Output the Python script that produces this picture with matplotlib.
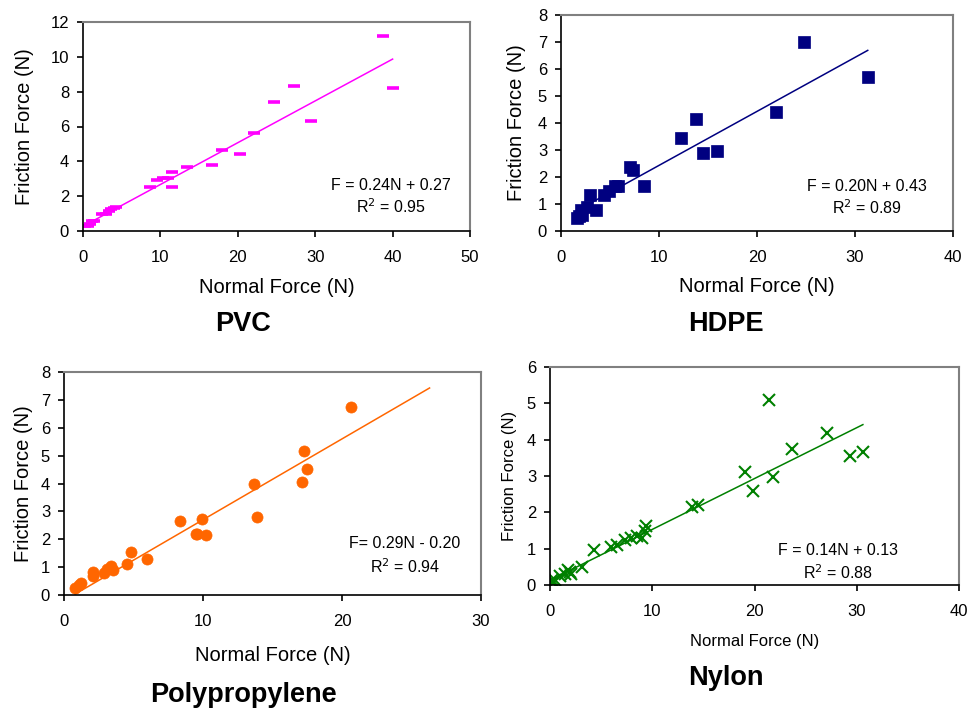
import matplotlib.pyplot as plt
import numpy as np

plt.rcParams['font.family'] = ['Liberation Sans', 'DejaVu Sans']

# PVC
pvc_n = [0.3, 0.6, 0.9, 1.1, 1.4, 2.5, 3.0, 3.3, 3.6, 4.0, 4.3, 8.7, 9.5, 10.3,
         11.0, 11.5, 11.5, 13.5, 16.7, 17.9, 20.3, 22.1, 24.7, 27.3, 29.5, 38.7, 40.0]
pvc_f = [0.3, 0.3, 0.4, 0.55, 0.6, 0.95, 1.0, 1.15, 1.25, 1.3, 1.35, 2.55, 2.95, 3.05,
         3.05, 3.4, 2.55, 3.7, 3.8, 4.65, 4.4, 5.65, 7.4, 8.35, 6.3, 11.2, 8.2]

# HDPE
hdpe_n = [1.6, 1.8, 2.0, 2.1, 2.7, 3.0, 3.6, 4.4, 4.9, 5.5, 5.8, 7.0, 7.3, 8.5,
          12.2, 13.8, 14.5, 15.9, 21.9, 24.8, 31.3]
hdpe_f = [0.5, 0.55, 0.78, 0.6, 0.9, 1.32, 0.79, 1.33, 1.5, 1.67, 1.67, 2.38, 2.25, 1.67,
          3.43, 4.15, 2.9, 2.95, 4.42, 7.0, 5.72]

# Polypropylene
pp_n = [0.8, 1.1, 1.25, 2.1, 2.1, 2.9, 3.1, 3.4, 3.5, 4.5, 4.85, 6.0, 8.35, 9.5,
        9.6, 9.95, 10.25, 13.7, 13.9, 17.1, 17.25, 17.5, 20.65]
pp_f = [0.25, 0.35, 0.44, 0.84, 0.67, 0.78, 0.95, 1.05, 0.88, 1.12, 1.53, 1.3, 2.67, 2.18,
        2.2, 2.73, 2.15, 4.0, 2.8, 4.05, 5.15, 4.52, 6.75]

# Nylon
ny_n = [0.2, 0.3, 0.5, 1.0, 1.5, 1.8, 2.0, 2.1, 3.1, 4.3, 6.0, 6.6, 7.3, 7.9, 8.5,
        9.0, 9.25, 9.4, 13.9, 14.5, 19.1, 19.9, 21.4, 21.8, 23.7, 27.1, 29.3, 30.6]
ny_f = [0.15, 0.05, 0.15, 0.25, 0.3, 0.4, 0.35, 0.3, 0.5, 0.95, 1.05, 1.1, 1.25, 1.28, 1.35,
        1.3, 1.5, 1.62, 2.15, 2.2, 3.1, 2.6, 5.08, 2.98, 3.75, 4.18, 3.54, 3.67]

W, H = 972, 711
fig = plt.figure(figsize=(W / 100, H / 100), dpi=100)


def make_ax(x0, x1, y0, y1):
    # pixel box -> figure fraction
    return fig.add_axes([x0 / W, (H - y1) / H, (x1 - x0) / W, (y1 - y0) / H])


def style(ax, tick_fs):
    for s in ['top', 'right']:
        ax.spines[s].set_color('#808080')
        ax.spines[s].set_linewidth(1.5)
    for s in ['left', 'bottom']:
        ax.spines[s].set_color('black')
        ax.spines[s].set_linewidth(1.2)
    ax.tick_params(direction='out', length=4, width=1.2, labelsize=tick_fs)
    ax.tick_params(axis='x', pad=10)
    ax.tick_params(axis='y', pad=6)


def panel(ax, n, f, slope, icpt, xfit, marker, color, ms, mew,
          xlim, ylim, xstep, eq, r2, eqx, eqy, lab_fs, xl_y, yl_x):
    ax.plot(n, f, linestyle='none', marker=marker, color=color, ms=ms, mew=mew,
            mec=color, mfc=color)
    xf = np.array(xfit)
    ax.plot(xf, slope * xf + icpt, color=color, lw=1.1)
    ax.set_xlim(*xlim)
    ax.set_ylim(*ylim)
    ax.set_xticks(np.arange(xlim[0], xlim[1] + 0.1, xstep))
    ax.set_yticks(np.arange(ylim[0], ylim[1] + 0.1, 2 if ylim[1] == 12 else 1))
    ax.set_xlabel('Normal Force (N)', fontsize=lab_fs, va='center')
    ax.set_ylabel('Friction Force (N)', fontsize=lab_fs, va='center')
    ax.xaxis.set_label_coords(0.5, xl_y)
    ax.yaxis.set_label_coords(yl_x, 0.5)
    ax.text(eqx, eqy[0], eq, transform=ax.transAxes, ha='center', va='center', fontsize=11.5)
    ax.text(eqx, eqy[1], r2, transform=ax.transAxes, ha='center', va='center', fontsize=11.5)


ax1 = make_ax(83, 470, 22, 231)
style(ax1, 12)
panel(ax1, pvc_n, pvc_f, 0.24, 0.27, [0, 40], '_', '#FF00FF', 8.5, 2.6,
      (0, 50), (0, 12), 10, 'F = 0.24N + 0.27', 'R$^2$ = 0.95', 0.796, (0.22, 0.115),
      14.5, -0.268, -0.150)

ax2 = make_ax(561, 953, 15, 231)
style(ax2, 12)
panel(ax2, hdpe_n, hdpe_f, 0.20, 0.43, [1.6, 31.3], 's', '#000080', 8.5, 0.5,
      (0, 40), (0, 8), 10, 'F = 0.20N + 0.43', 'R$^2$ = 0.89', 0.78, (0.208, 0.108),
      14.5, -0.259, -0.113)

ax3 = make_ax(64, 481, 372, 595)
style(ax3, 12)
panel(ax3, pp_n, pp_f, 0.29, -0.20, [0.8, 26.3], 'o', '#FF6600', 8, 0.5,
      (0, 30), (0, 8), 10, 'F= 0.29N - 0.20', 'R$^2$ = 0.94', 0.818, (0.229, 0.127),
      14.5, -0.2735, -0.096)

ax4 = make_ax(550, 959, 367, 585)
style(ax4, 12)
panel(ax4, ny_n, ny_f, 0.14, 0.13, [0, 30.6], 'x', '#008000', 9, 1.5,
      (0, 40), (0, 6), 10, 'F = 0.14N + 0.13', 'R$^2$ = 0.88', 0.704, (0.156, 0.056),
      12, -0.261, -0.098)

fig.text(243 / W, 1 - 324 / H, 'PVC', ha='center', va='center', fontsize=19.5, fontweight='bold')
fig.text(726 / W, 1 - 324 / H, 'HDPE', ha='center', va='center', fontsize=19.5, fontweight='bold')
fig.text(243 / W, 1 - 695 / H, 'Polypropylene', ha='center', va='center', fontsize=19.5, fontweight='bold')
fig.text(726 / W, 1 - 678 / H, 'Nylon', ha='center', va='center', fontsize=19.5, fontweight='bold')

fig.savefig('out.png', dpi=100)
